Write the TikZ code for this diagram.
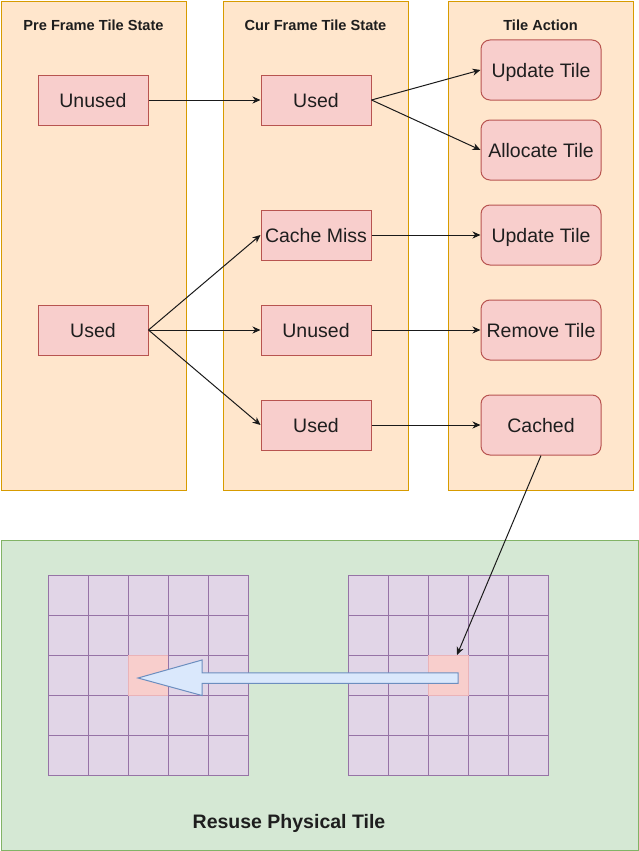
\documentclass[tikz,border=0pt]{standalone}
\usepackage{fontspec}
\setmainfont{Liberation Sans}
\usetikzlibrary{arrows.meta}
\definecolor{colfill}{HTML}{FFE6CC}
\definecolor{coldraw}{HTML}{D79B00}
\definecolor{boxfill}{HTML}{F8CECC}
\definecolor{boxdraw}{HTML}{B85450}
\definecolor{grnfill}{HTML}{D5E8D4}
\definecolor{grndraw}{HTML}{82B366}
\definecolor{gridfill}{HTML}{E1D5E7}
\definecolor{griddraw}{HTML}{9673A6}
\definecolor{hlfill}{HTML}{F8CECC}
\definecolor{hldraw}{HTML}{EAB3B8}
\definecolor{bluefill}{HTML}{DAE8FC}
\definecolor{bluedraw}{HTML}{6C8EBF}
\definecolor{txt}{HTML}{1E1E1E}
\definecolor{conn}{HTML}{1A1A1A}
\begin{document}
\begin{tikzpicture}[x=1pt,y=-1pt,
  colbox/.style={draw=coldraw, fill=colfill, line width=1pt, anchor=north west, inner sep=0pt},
  coltitle/.style={font=\bfseries\fontsize{14.6}{17}\selectfont, text=txt, text height=10pt, text depth=0pt, inner sep=0pt},
  statebox/.style={draw=boxdraw, fill=boxfill, line width=1pt, minimum width=110pt, minimum height=50pt, inner sep=0pt,
    font=\fontsize{19.5}{23}\selectfont, text=txt, text height=15pt, text depth=0pt},
  actbox/.style={statebox, minimum width=120pt, minimum height=60pt, rounded corners=9pt},
  greenbox/.style={draw=grndraw, fill=grnfill, line width=1pt, anchor=north west, inner sep=0pt},
  cellbox/.style={draw=griddraw, fill=gridfill, line width=1pt, minimum size=40pt, inner sep=0pt},
  hlcell/.style={draw=hldraw, fill=hlfill, line width=1pt, minimum size=40pt, inner sep=0pt},
  link/.style={draw=conn, line width=1pt, -{Stealth[length=8pt,width=7pt,inset=2.5pt]}},
]
\useasboundingbox (0,0) rectangle (639,851);

% columns
\node[colbox, minimum width=185pt, minimum height=489pt] (c1) at (1,1) {};
\node[colbox, minimum width=185pt, minimum height=489pt] (c2) at (223,1) {};
\node[colbox, minimum width=185pt, minimum height=489pt] (c3) at (448,1) {};
\node[coltitle] (t1) at (93.5,25.7) {Pre Frame Tile State};
\node[coltitle] (t2) at (315.5,25.7) {Cur Frame Tile State};
\node[coltitle] (t3) at (540.5,25.7) {Tile Action};

% state boxes
\node[statebox] (pu) at (93,100) {Unused};
\node[statebox] (pused) at (93,330) {Used};
\node[statebox] (cused1) at (316,100) {Used};
\node[statebox] (cmiss) at (316,235) {Cache Miss};
\node[statebox] (cunused) at (316,330) {Unused};
\node[statebox] (cused2) at (316,425) {Used};

\node[actbox] (aupd1) at (541,70) {Update Tile};
\node[actbox] (aalloc) at (541,150) {Allocate Tile};
\node[actbox] (aupd2) at (541,235) {Update Tile};
\node[actbox] (arem) at (541,330) {Remove Tile};
\node[actbox] (acache) at (541,425) {Cached};

% green area
\node[greenbox, minimum width=637pt, minimum height=310pt] (g) at (1,540) {};

% grids
\foreach \i in {0,...,4}{
  \foreach \j in {0,...,4}{
    \node[cellbox] (l\i\j) at (68+40*\i,595+40*\j) {};
    \node[cellbox] (r\i\j) at (368+40*\i,595+40*\j) {};
  }
}
\node[hlcell] (lhl) at (148,675) {};
\node[hlcell] (rhl) at (448,675) {};
\draw[griddraw, line width=1pt] (lhl.north east) -- (lhl.south east);

% blue fat arrow
\draw[draw=bluedraw, fill=bluefill, line width=1pt, line join=miter]
  (458,672.8) -- (202,672.8) -- (202,660) -- (138,678) -- (202,695.5) -- (202,683.3) -- (458,683.3) -- cycle;

\node[font=\bfseries\fontsize{19.5}{23}\selectfont, text=txt, text height=14pt, text depth=0pt, inner sep=0pt] (lbl) at (289,821) {Resuse Physical Tile};

% connectors
\coordinate (tgt) at (457,655);
\draw[link] (pu.east) -- (cused1.west);
\draw[link] (cused1.east) -- (aupd1.west);
\draw[link] (cused1.east) -- (aalloc.west);
\draw[link] (pused.east) -- (cmiss.west);
\draw[link] (pused.east) -- (cunused.west);
\draw[link] (pused.east) -- (cused2.west);
\draw[link] (cmiss.east) -- (aupd2.west);
\draw[link] (cunused.east) -- (arem.west);
\draw[link] (cused2.east) -- (acache.west);
\draw[link] (acache.south) -- (tgt);
\end{tikzpicture}
\end{document}
